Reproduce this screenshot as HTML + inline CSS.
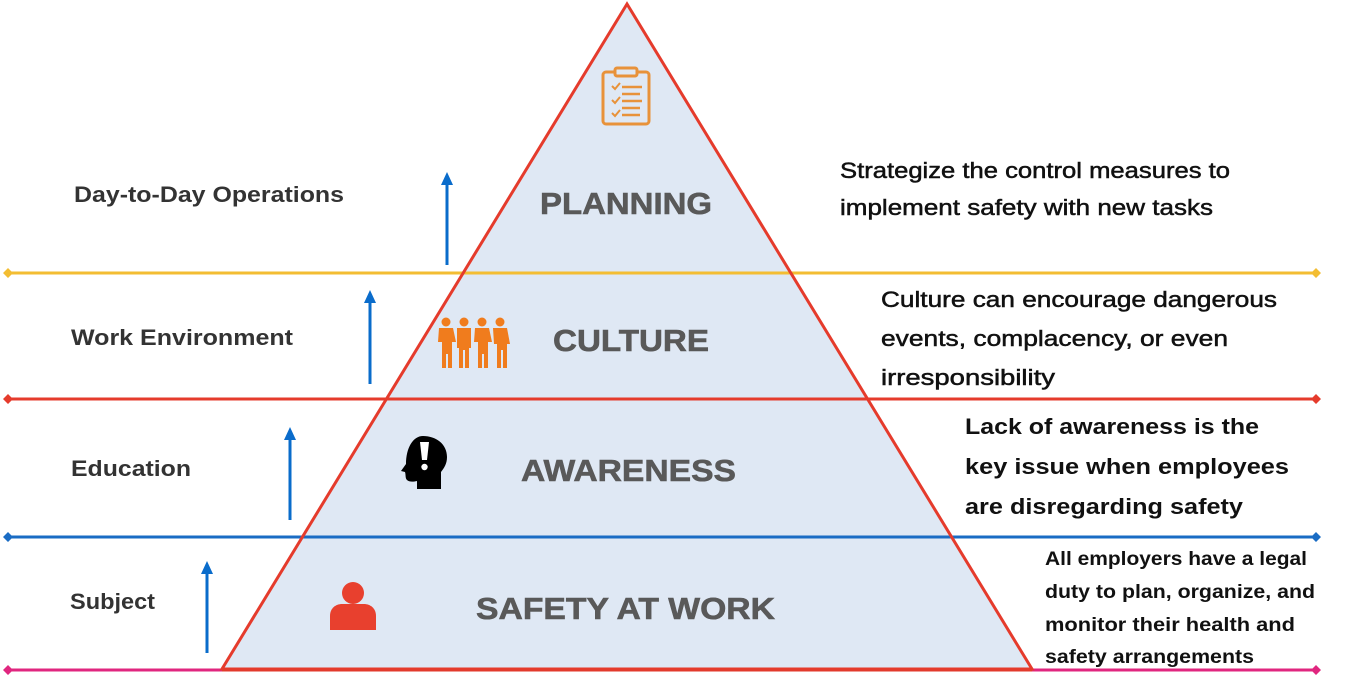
<!DOCTYPE html>
<html><head><meta charset="utf-8"><style>
html,body{margin:0;padding:0;background:#fff;}
svg{display:block;}
</style></head><body>
<svg width="1354" height="679" viewBox="0 0 1354 679" xmlns="http://www.w3.org/2000/svg" font-family="Liberation Sans, sans-serif">
<polygon points="627,4 222,669 1032,669" fill="#dfe8f4"/>
<line x1="8" y1="273" x2="1316" y2="273" stroke="#f3bd32" stroke-width="3"/>
<path d="M3,273 l5,-5 l5,5 l-5,5z M1311,273 l5,-5 l5,5 l-5,5z" fill="#f3bd32"/>
<line x1="8" y1="399" x2="1316" y2="399" stroke="#e53b2c" stroke-width="3"/>
<path d="M3,399 l5,-5 l5,5 l-5,5z M1311,399 l5,-5 l5,5 l-5,5z" fill="#e53b2c"/>
<line x1="8" y1="537" x2="1316" y2="537" stroke="#1a6cc4" stroke-width="3"/>
<path d="M3,537 l5,-5 l5,5 l-5,5z M1311,537 l5,-5 l5,5 l-5,5z" fill="#1a6cc4"/>
<line x1="8" y1="670" x2="1316" y2="670" stroke="#e0267f" stroke-width="3"/>
<line x1="222" y1="670" x2="1032" y2="670" stroke="#e03a2c" stroke-width="3"/>
<path d="M3,670 l5,-5 l5,5 l-5,5z M1311,670 l5,-5 l5,5 l-5,5z" fill="#e0267f"/>
<polygon points="627,4 222,669 1032,669" fill="none" stroke="#e53b2c" stroke-width="3"/>
<!-- arrows -->
<g stroke="#0a6ccb" stroke-width="3">
<line x1="447" y1="265" x2="447" y2="182"/>
<line x1="370" y1="384" x2="370" y2="300"/>
<line x1="290" y1="520" x2="290" y2="437"/>
<line x1="207" y1="653" x2="207" y2="571"/>
</g>
<g fill="#0a6ccb">
<polygon points="441,185 453,185 447,172"/>
<polygon points="364,303 376,303 370,290"/>
<polygon points="284,440 296,440 290,427"/>
<polygon points="201,574 213,574 207,561"/>
</g>
<g font-weight="bold" font-size="22" fill="#333">
<text x="74" y="202" textLength="270" lengthAdjust="spacingAndGlyphs">Day-to-Day Operations</text>
<text x="71" y="345" textLength="222" lengthAdjust="spacingAndGlyphs">Work Environment</text>
<text x="71" y="476" textLength="120" lengthAdjust="spacingAndGlyphs">Education</text>
<text x="70" y="609" textLength="85" lengthAdjust="spacingAndGlyphs">Subject</text>
</g>
<g font-weight="bold" font-size="31" fill="#595959" stroke="#595959" stroke-width="0.6">
<text x="540" y="214" textLength="172" lengthAdjust="spacingAndGlyphs">PLANNING</text>
<text x="553" y="351" textLength="156" lengthAdjust="spacingAndGlyphs">CULTURE</text>
<text x="521" y="481" textLength="215" lengthAdjust="spacingAndGlyphs">AWARENESS</text>
<text x="476" y="619" textLength="299" lengthAdjust="spacingAndGlyphs">SAFETY AT WORK</text>
</g>
<g stroke="#e8923a" stroke-width="3" fill="none">
<rect x="603" y="72" width="46" height="52" rx="3"/>
<rect x="615" y="68" width="22" height="8" rx="2" fill="#dfe8f4"/>
<path d="M612,86 l3,3 l5,-6 M612,100 l3,3 l5,-6 M612,113 l3,3 l5,-6" stroke-width="2"/>
<path d="M622,87 h20 M622,94 h18 M622,101 h20 M622,108 h18 M622,115 h18" stroke-width="2.5"/>
</g>
<g fill="#f07c1d">
<circle cx="446" cy="322" r="4.5"/><circle cx="464" cy="322" r="4.5"/><circle cx="482" cy="322" r="4.5"/><circle cx="500" cy="322" r="4.5"/>
<path d="M439,328 h14 l3,14 h-4 v26 h-4 v-14 h-2 v14 h-4 v-26 h-4z"/>
<path d="M457,328 h14 v20 h-2 v20 h-4 v-18 h-2 v18 h-4 v-20 h-2z"/>
<path d="M475,328 h14 l3,14 h-4 v26 h-4 v-14 h-2 v14 h-4 v-26 h-4z"/>
<path d="M493,328 h14 l3,16 h-3 v24 h-4 v-18 h-2 v18 h-4 v-24 h-3z"/>
</g>
<!-- head icon -->
<path d="M423,436 c13,0 24,8 24,21 c0,7 -3,11 -6,15 v17 h-24 v-8 c-4,1 -8,1 -10,-1 c-2,-2 -1,-5 -2,-8 l-4,-1 l5,-7 c0,-16 7,-28 17,-28z" fill="#000"/>
<path d="M420,442 h9 l-2,18 h-5z" fill="#fff"/><circle cx="424.5" cy="467" r="3.2" fill="#fff"/>
<circle cx="353" cy="593" r="11" fill="#e8402e"/>
<path d="M330,630 v-14 c0,-8 6,-12 12,-12 h22 c6,0 12,4 12,12 v14z" fill="#e8402e"/>
<g font-size="22" fill="#111" stroke="#111" stroke-width="0.5">
<text x="840" y="178" textLength="390" lengthAdjust="spacingAndGlyphs">Strategize the control measures to</text>
<text x="840" y="215" textLength="373" lengthAdjust="spacingAndGlyphs">implement safety with new tasks</text>
<text x="881" y="307" textLength="396" lengthAdjust="spacingAndGlyphs">Culture can encourage dangerous</text>
<text x="881" y="346" textLength="347" lengthAdjust="spacingAndGlyphs">events, complacency, or even</text>
<text x="881" y="385" textLength="174" lengthAdjust="spacingAndGlyphs">irresponsibility</text>
</g>
<g font-size="22" fill="#111" font-weight="bold">
<text x="965" y="434" textLength="294" lengthAdjust="spacingAndGlyphs">Lack of awareness is the</text>
<text x="965" y="474" textLength="324" lengthAdjust="spacingAndGlyphs">key issue when employees</text>
<text x="965" y="514" textLength="278" lengthAdjust="spacingAndGlyphs">are disregarding safety</text>
</g>
<g font-size="19" font-weight="bold" fill="#111">
<text x="1045" y="565" textLength="262" lengthAdjust="spacingAndGlyphs">All employers have a legal</text>
<text x="1045" y="598" textLength="270" lengthAdjust="spacingAndGlyphs">duty to plan, organize, and</text>
<text x="1045" y="631" textLength="250" lengthAdjust="spacingAndGlyphs">monitor their health and</text>
<text x="1045" y="663" textLength="209" lengthAdjust="spacingAndGlyphs">safety arrangements</text>
</g>
</svg>
</body></html>
